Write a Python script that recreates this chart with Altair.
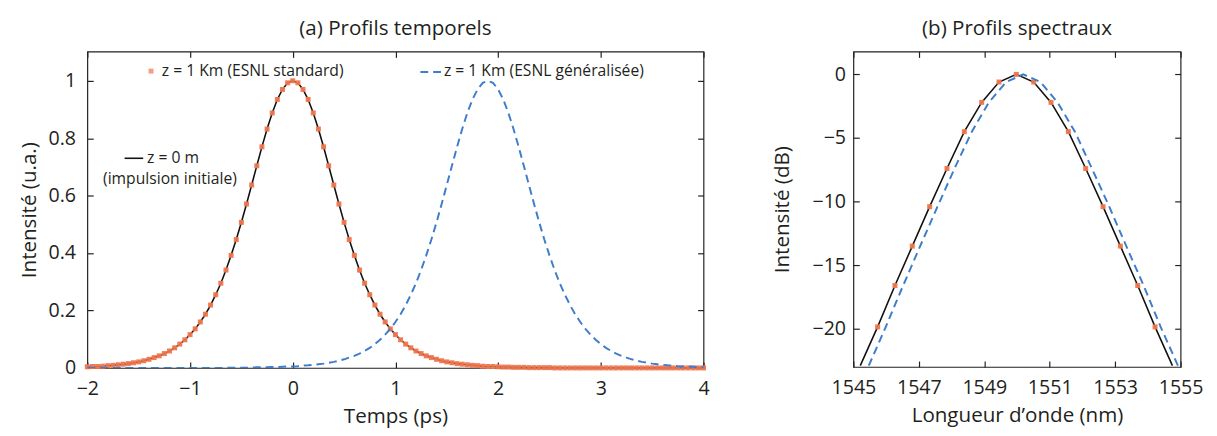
import altair as alt
import pandas as pd

# ---------------- (a) temporal profiles ----------------
time_ps = [
    -2.00, -1.95, -1.90, -1.85, -1.80, -1.75, -1.70, -1.65, -1.60, -1.55,
    -1.50, -1.45, -1.40, -1.35, -1.30, -1.25, -1.20, -1.15, -1.10, -1.05,
    -1.00, -0.95, -0.90, -0.85, -0.80, -0.75, -0.70, -0.65, -0.60, -0.55,
    -0.50, -0.45, -0.40, -0.35, -0.30, -0.25, -0.20, -0.15, -0.10, -0.05,
    0.00, 0.05, 0.10, 0.15, 0.20, 0.25, 0.30, 0.35, 0.40, 0.45,
    0.50, 0.55, 0.60, 0.65, 0.70, 0.75, 0.80, 0.85, 0.90, 0.95,
    1.00, 1.05, 1.10, 1.15, 1.20, 1.25, 1.30, 1.35, 1.40, 1.45,
    1.50, 1.55, 1.60, 1.65, 1.70, 1.75, 1.80, 1.85, 1.90, 1.95,
    2.00, 2.05, 2.10, 2.15, 2.20, 2.25, 2.30, 2.35, 2.40, 2.45,
    2.50, 2.55, 2.60, 2.65, 2.70, 2.75, 2.80, 2.85, 2.90, 2.95,
    3.00, 3.05, 3.10, 3.15, 3.20, 3.25, 3.30, 3.35, 3.40, 3.45,
    3.50, 3.55, 3.60, 3.65, 3.70, 3.75, 3.80, 3.85, 3.90, 3.95,
    4.00,
]

# z = 0 m (initial pulse), black solid line
initial_z0 = [
    0.004, 0.005, 0.005, 0.006, 0.008, 0.009, 0.011, 0.013, 0.015, 0.018,
    0.021, 0.025, 0.030, 0.036, 0.042, 0.050, 0.059, 0.070, 0.083, 0.098,
    0.116, 0.136, 0.160, 0.187, 0.219, 0.255, 0.295, 0.341, 0.392, 0.447,
    0.507, 0.571, 0.637, 0.704, 0.770, 0.832, 0.888, 0.935, 0.970, 0.993,
    1.000, 0.993, 0.970, 0.935, 0.888, 0.832, 0.770, 0.704, 0.637, 0.571,
    0.507, 0.447, 0.392, 0.341, 0.295, 0.255, 0.219, 0.187, 0.160, 0.136,
    0.116, 0.098, 0.083, 0.070, 0.059, 0.050, 0.042, 0.036, 0.030, 0.025,
    0.021, 0.018, 0.015, 0.013, 0.011, 0.009, 0.008, 0.006, 0.005, 0.005,
    0.004, 0.003, 0.003, 0.002, 0.002, 0.002, 0.001, 0.001, 0.001, 0.001,
    0.001, 0.000, 0.000, 0.000, 0.000, 0.000, 0.000, 0.000, 0.000, 0.000,
    0.000, 0.000, 0.000, 0.000, 0.000, 0.000, 0.000, 0.000, 0.000, 0.000,
    0.000, 0.000, 0.000, 0.000, 0.000, 0.000, 0.000, 0.000, 0.000, 0.000,
    0.000,
]

# z = 1 km, standard NLSE (orange markers) - coincides with the initial pulse
standard_z1km = [
    0.004, 0.005, 0.005, 0.006, 0.008, 0.009, 0.011, 0.013, 0.015, 0.018,
    0.021, 0.025, 0.030, 0.036, 0.042, 0.050, 0.059, 0.070, 0.083, 0.098,
    0.116, 0.136, 0.160, 0.187, 0.219, 0.255, 0.295, 0.341, 0.392, 0.447,
    0.507, 0.571, 0.637, 0.704, 0.770, 0.832, 0.888, 0.935, 0.970, 0.993,
    1.000, 0.993, 0.970, 0.935, 0.888, 0.832, 0.770, 0.704, 0.637, 0.571,
    0.507, 0.447, 0.392, 0.341, 0.295, 0.255, 0.219, 0.187, 0.160, 0.136,
    0.116, 0.098, 0.083, 0.070, 0.059, 0.050, 0.042, 0.036, 0.030, 0.025,
    0.021, 0.018, 0.015, 0.013, 0.011, 0.009, 0.008, 0.006, 0.005, 0.005,
    0.004, 0.003, 0.003, 0.002, 0.002, 0.002, 0.001, 0.001, 0.001, 0.001,
    0.001, 0.000, 0.000, 0.000, 0.000, 0.000, 0.000, 0.000, 0.000, 0.000,
    0.000, 0.000, 0.000, 0.000, 0.000, 0.000, 0.000, 0.000, 0.000, 0.000,
    0.000, 0.000, 0.000, 0.000, 0.000, 0.000, 0.000, 0.000, 0.000, 0.000,
    0.000,
]

# z = 1 km, generalized NLSE (blue dashed line)
generalized_z1km = [
    0.000, 0.000, 0.000, 0.000, 0.000, 0.000, 0.000, 0.000, 0.000, 0.000,
    0.000, 0.000, 0.000, 0.000, 0.000, 0.000, 0.000, 0.000, 0.000, 0.000,
    0.000, 0.000, 0.000, 0.000, 0.000, 0.000, 0.000, 0.000, 0.001, 0.001,
    0.001, 0.001, 0.001, 0.002, 0.002, 0.002, 0.003, 0.003, 0.004, 0.005,
    0.005, 0.006, 0.008, 0.009, 0.011, 0.013, 0.015, 0.018, 0.021, 0.025,
    0.030, 0.036, 0.042, 0.050, 0.059, 0.070, 0.083, 0.098, 0.116, 0.136,
    0.160, 0.187, 0.219, 0.255, 0.295, 0.341, 0.392, 0.447, 0.507, 0.571,
    0.637, 0.704, 0.770, 0.832, 0.888, 0.935, 0.970, 0.993, 1.000, 0.993,
    0.970, 0.935, 0.888, 0.832, 0.770, 0.704, 0.637, 0.571, 0.507, 0.447,
    0.392, 0.341, 0.295, 0.255, 0.219, 0.187, 0.160, 0.136, 0.116, 0.098,
    0.083, 0.070, 0.059, 0.050, 0.042, 0.036, 0.030, 0.025, 0.021, 0.018,
    0.015, 0.013, 0.011, 0.009, 0.008, 0.006, 0.005, 0.005, 0.004, 0.003,
    0.003,
]

time_ticks = [-2, -1, 0, 1, 2, 3, 4]
intensity_ticks = [0, 0.2, 0.4, 0.6, 0.8, 1]

# ---------------- (b) spectral profiles ----------------
wl_initial = [1545.21, 1545.74, 1546.27, 1546.80, 1547.33, 1547.86, 1548.39,
              1548.92, 1549.45, 1549.98, 1550.51, 1551.04, 1551.57, 1552.10,
              1552.63, 1553.16, 1553.69, 1554.22, 1554.75]
db_initial = [-22.9, -19.85, -16.6, -13.5, -10.4, -7.4, -4.5, -2.2, -0.6, 0.0,
              -0.6, -2.2, -4.5, -7.4, -10.4, -13.5, -16.6, -19.85, -22.9]

wl_standard = [1545.74, 1546.27, 1546.80, 1547.33, 1547.86, 1548.39, 1548.92,
               1549.45, 1549.98, 1550.51, 1551.04, 1551.57, 1552.10, 1552.63,
               1553.16, 1553.69, 1554.22]
db_standard = [-19.85, -16.6, -13.5, -10.4, -7.4, -4.5, -2.2, -0.6, 0.0,
               -0.6, -2.2, -4.5, -7.4, -10.4, -13.5, -16.6, -19.85]

wl_generalized = [1545.47, 1545.99, 1546.52, 1547.04, 1547.57, 1548.09, 1548.62,
                  1549.14, 1549.67, 1550.19, 1550.72, 1551.24, 1551.77, 1552.29,
                  1552.82, 1553.34, 1553.87, 1554.39, 1554.92]
db_generalized = [-22.9, -19.85, -16.6, -13.5, -10.4, -7.4, -4.5, -2.2, -0.6, 0.0,
                  -0.6, -2.2, -4.5, -7.4, -10.4, -13.5, -16.6, -19.85, -22.9]

wl_ticks = [1545, 1547, 1549, 1551, 1553, 1555]
db_ticks = [-20, -15, -10, -5, 0]

# ---------------- styling ----------------
FONT = "Open Sans"
TXT = "#231f20"
ORANGE = "#f0764e"
BLUE = "#3f7dcb"
BLACK = "#111111"
TICK = 6

df_t = pd.DataFrame({"t": time_ps, "initial": initial_z0,
                     "standard": standard_z1km, "generalized": generalized_z1km})
df_wi = pd.DataFrame({"wl": wl_initial, "db": db_initial})
df_ws = pd.DataFrame({"wl": wl_standard, "db": db_standard})
df_wg = pd.DataFrame({"wl": wl_generalized, "db": db_generalized})
one = pd.DataFrame({"k": [0]})

t_scale = alt.Scale(domain=[-2, 4], nice=False, zero=False)
i_scale = alt.Scale(domain=[0, 1.102], nice=False, zero=False)
wl_scale = alt.Scale(domain=[1545, 1555], nice=False, zero=False)
db_scale = alt.Scale(domain=[-23, 1.8], nice=False, zero=False)


def x_axis(title, values, fmt):
    return alt.Axis(orient="bottom", title=title, values=values, format=fmt,
                    offset=-TICK, tickSize=TICK, domain=False, grid=False,
                    labelPadding=11, titlePadding=8, labelOverlap=False,
                    labelFlush=False, labelBound=False)


def y_axis(title, values, fmt, lpad, tpad):
    return alt.Axis(orient="left", title=title, values=values, format=fmt,
                    offset=-TICK, tickSize=TICK, domain=False, grid=False,
                    labelPadding=lpad, titlePadding=tpad, labelOverlap=False,
                    labelFlush=False)


def mirror_axis(orient, values):
    return alt.Axis(orient=orient, title="", values=values, labels=False,
                    offset=-TICK, tickSize=TICK, domain=False, grid=False)


W1, H1 = 629, 323
W2, H2 = 334, 322

# left panel
black_t = alt.Chart(df_t).mark_line(color=BLACK, strokeWidth=1.6, clip=True).encode(
    x=alt.X("t:Q", scale=t_scale, axis=x_axis("Temps (ps)", time_ticks, "d")),
    y=alt.Y("initial:Q", scale=i_scale,
            axis=y_axis("Intensité (u.a.)", intensity_ticks, "~g", 12, 9)),
)
mirror_t = alt.Chart(df_t).mark_line(opacity=0).encode(
    x=alt.X("t:Q", scale=t_scale, axis=mirror_axis("top", time_ticks)),
    y=alt.Y("initial:Q", scale=i_scale, axis=mirror_axis("right", intensity_ticks)),
)
marks_t = alt.Chart(df_t).mark_square(color=ORANGE, size=26, opacity=0.95).encode(
    x=alt.X("t:Q", scale=t_scale, axis=None),
    y=alt.Y("standard:Q", scale=i_scale, axis=None),
)
blue_t = alt.Chart(df_t).mark_line(color=BLUE, strokeWidth=2, strokeDash=[8, 5], clip=True).encode(
    x=alt.X("t:Q", scale=t_scale, axis=None),
    y=alt.Y("generalized:Q", scale=i_scale, axis=None),
)

LEG = 16
leg1_mark = alt.Chart(one).mark_square(color=ORANGE, size=26).encode(
    x=alt.value(65), y=alt.value(20))
leg1_text = alt.Chart(one).mark_text(text="z = 1 Km (ESNL standard)", align="left", baseline="middle",
                                     font=FONT, fontSize=LEG, color=TXT).encode(
    x=alt.value(76), y=alt.value(20))
leg2_line = alt.Chart(one).mark_rule(color=BLUE, strokeWidth=2, strokeDash=[8, 5]).encode(
    x=alt.value(340), x2=alt.value(361), y=alt.value(21))
leg2_text = alt.Chart(one).mark_text(text="z = 1 Km (ESNL généralisée)", align="left", baseline="middle",
                                     font=FONT, fontSize=LEG, color=TXT).encode(
    x=alt.value(364), y=alt.value(20))
leg3_line = alt.Chart(one).mark_rule(color=BLACK, strokeWidth=1.6).encode(
    x=alt.value(38), x2=alt.value(57), y=alt.value(109))
leg3_text = alt.Chart(one).mark_text(text="z = 0 m", align="left", baseline="middle",
                                     font=FONT, fontSize=LEG, color=TXT).encode(
    x=alt.value(61), y=alt.value(109))
leg3_text2 = alt.Chart(one).mark_text(text="(impulsion initiale)", align="left", baseline="middle",
                                      font=FONT, fontSize=LEG, color=TXT).encode(
    x=alt.value(16), y=alt.value(130))

left = alt.layer(
    black_t, mirror_t, marks_t, blue_t,
    leg1_mark, leg1_text, leg2_line, leg2_text, leg3_line, leg3_text, leg3_text2,
).properties(
    width=W1, height=H1,
    title=alt.TitleParams("(a) Profils temporels", font=FONT, fontSize=21, fontWeight="normal",
                          color=TXT, anchor="middle", offset=12),
)

# right panel
black_w = alt.Chart(df_wi).mark_line(color=BLACK, strokeWidth=1.6, clip=True).encode(
    x=alt.X("wl:Q", scale=wl_scale,
            axis=x_axis("Longueur d’onde (nm)", wl_ticks, "d")),
    y=alt.Y("db:Q", scale=db_scale, axis=y_axis("Intensité (dB)", db_ticks, "d", 8, 20)),
)
mirror_w = alt.Chart(df_wi).mark_line(opacity=0).encode(
    x=alt.X("wl:Q", scale=wl_scale, axis=mirror_axis("top", wl_ticks)),
    y=alt.Y("db:Q", scale=db_scale, axis=mirror_axis("right", db_ticks)),
)
marks_w = alt.Chart(df_ws).mark_square(color=ORANGE, size=26, opacity=0.95).encode(
    x=alt.X("wl:Q", scale=wl_scale, axis=None),
    y=alt.Y("db:Q", scale=db_scale, axis=None),
)
blue_w = alt.Chart(df_wg).mark_line(color=BLUE, strokeWidth=2, strokeDash=[8, 5], clip=True).encode(
    x=alt.X("wl:Q", scale=wl_scale, axis=None),
    y=alt.Y("db:Q", scale=db_scale, axis=None),
)

right = alt.layer(black_w, mirror_w, marks_w, blue_w).properties(
    width=W2, height=H2,
    title=alt.TitleParams("(b) Profils spectraux", font=FONT, fontSize=21, fontWeight="normal",
                          color=TXT, anchor="middle", offset=12),
)

chart = alt.hconcat(left, right, spacing=62).configure(
    padding={"left": 10, "top": 5, "right": 5, "bottom": 0},
    background="white",
).configure_view(
    stroke=TXT, strokeWidth=1.2,
).configure_axis(
    labelFont=FONT, labelFontSize=20, labelColor=TXT,
    titleFont=FONT, titleFontSize=21, titleColor=TXT, titleFontWeight="normal",
    tickColor=TXT, tickWidth=1.2,
)

chart.save("out.html", embed_options={"renderer": "svg", "actions": False})
